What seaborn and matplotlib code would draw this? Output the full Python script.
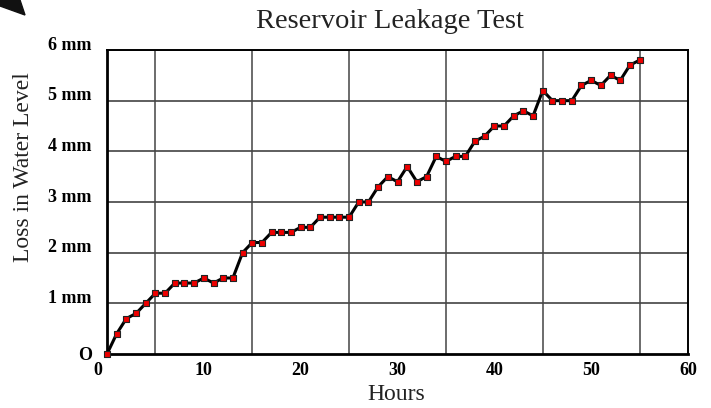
import matplotlib
matplotlib.use("Agg")

import matplotlib.pyplot as plt
import matplotlib.transforms as mtransforms
from matplotlib.patches import Polygon
import pandas as pd
import seaborn as sns

hours = list(range(56))
loss_mm = [0, 0.4, 0.7, 0.8, 1.0, 1.2, 1.2, 1.4, 1.4, 1.4,
           1.5, 1.4, 1.5, 1.5, 2.0, 2.2, 2.2, 2.4, 2.4, 2.4,
           2.5, 2.5, 2.7, 2.7, 2.7, 2.7, 3.0, 3.0, 3.3, 3.5,
           3.4, 3.7, 3.4, 3.5, 3.9, 3.8, 3.9, 3.9, 4.2, 4.3,
           4.5, 4.5, 4.7, 4.8, 4.7, 5.2, 5.0, 5.0, 5.0, 5.3,
           5.4, 5.3, 5.5, 5.4, 5.7, 5.8]
x_ticks = [0, 10, 20, 30, 40, 50, 60]
x_grid = [5, 15, 25, 35, 45, 55]
y_ticks = [0, 1, 2, 3, 4, 5, 6]
y_labels = ["O", "1 mm", "2 mm", "3 mm", "4 mm", "5 mm", "6 mm"]

df = pd.DataFrame({"Hours": hours, "Loss": loss_mm})

sns.set_style("white")
plt.rcParams["font.family"] = ["Liberation Serif", "DejaVu Serif"]

fig = plt.figure(figsize=(7.11, 4.08), dpi=100)
ax = fig.add_axes([107 / 711, 1 - 354 / 408, (688 - 107) / 711, (354 - 50) / 408])

# grid: horizontal at each mm, vertical at odd fives
for y in y_ticks[1:]:
    ax.axhline(y, color="#333333", lw=1.1, zorder=1)
for x in x_grid:
    ax.axvline(x, color="#444444", lw=1.1, zorder=1)

# slightly wide rectangle marker like the original
rect = [(-1, -0.75), (1, -0.75), (1, 0.75), (-1, 0.75), (-1, -0.75)]
sns.lineplot(data=df, x="Hours", y="Loss", ax=ax, color="black", lw=2.2,
             marker=rect, markersize=5, markerfacecolor="#ee0000",
             markeredgecolor="#222222", markeredgewidth=0.8, zorder=3, clip_on=False)

ax.set_xlim(0, 60)
ax.set_ylim(0, 6)
ax.set_xticks(x_ticks)
ax.set_xticks(x_grid, minor=True)
ax.set_yticks(y_ticks)
ax.set_yticks([0.5, 1.5, 2.5, 3.5, 4.5, 5.5], minor=True)
ax.set_xticklabels([str(v) for v in x_ticks], fontsize=13, fontweight="bold")
ax.set_yticklabels(y_labels, fontsize=13, fontweight="bold")

ax.tick_params(axis="x", which="major", direction="inout", length=9, width=1, pad=1, colors="black")
ax.tick_params(axis="x", which="minor", direction="in", length=4, width=1, colors="black")
ax.tick_params(axis="y", which="major", direction="out", length=9, width=1.2, pad=2, colors="black")
ax.tick_params(axis="y", which="minor", direction="inout", length=8, width=1, colors="black")

# y labels sit a little above their lines, except the "O"
shift = mtransforms.ScaledTranslation(0, 7 / 100, fig.dpi_scale_trans)
for lab in ax.get_yticklabels()[1:]:
    lab.set_transform(lab.get_transform() + shift)
xshift = mtransforms.ScaledTranslation(-9 / 100, 0, fig.dpi_scale_trans)
ax.get_xticklabels()[0].set_transform(ax.get_xticklabels()[0].get_transform() + xshift)

for side in ["left", "bottom"]:
    ax.spines[side].set_linewidth(2)
for side in ["right", "top"]:
    ax.spines[side].set_linewidth(1.4)
for s in ax.spines.values():
    s.set_color("black")

ax.set_xlabel("")
ax.set_ylabel("")
fig.text(396 / 711, 1 - 394 / 408, "Hours", fontsize=17, ha="center", va="center", color="#222222")
fig.text(24 / 711, 1 - 167 / 408, "Loss in Water Level", fontsize=17, rotation=90,
         ha="center", va="center", color="#222222")
fig.text(390 / 711, 1 - 22 / 408, "Reservoir Leakage Test", fontsize=20.5,
         ha="center", va="center", color="#222222")

# dark corner mark at top left
tri = Polygon([(0, 1), (20 / 711, 1), (25 / 711, 1 - 15 / 408), (0, 1 - 6 / 408)],
              closed=True, transform=fig.transFigure, color="#111111")
fig.patches.append(tri)

fig.savefig("out.png", dpi=100)
